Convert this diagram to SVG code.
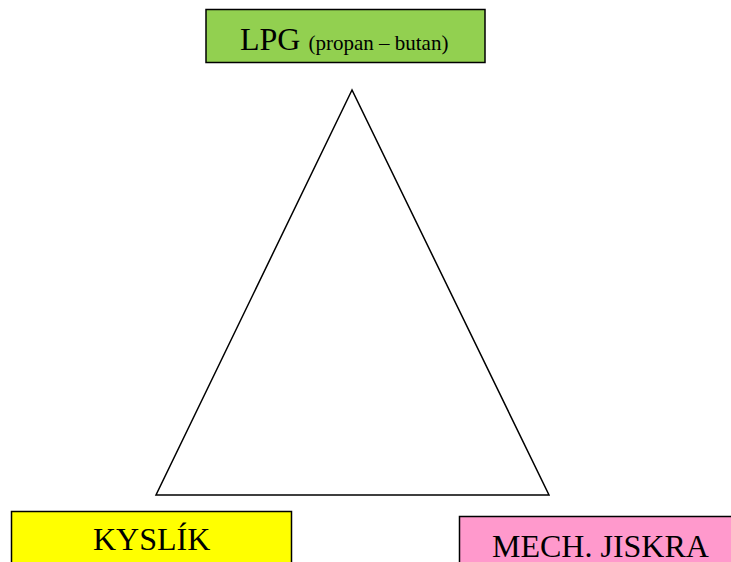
<svg xmlns="http://www.w3.org/2000/svg" width="731" height="562" viewBox="0 0 731 562">
<style>
.box{stroke:#000;stroke-width:1.5}
.t{font-family:"Liberation Serif","Times New Roman",serif;fill:#000}
</style>
<rect width="731" height="562" fill="#fff"/>
<g id="connectors">
<polygon points="352,90 156,495 549,495" fill="none" stroke="#000" stroke-width="1.5"/>
</g>
<g id="lpg">
<rect class="box" x="206" y="9.5" width="279" height="53" fill="#92D050"/>
<text class="t" x="240" y="50" font-size="32">LPG <tspan font-size="21">(propan – butan)</tspan></text>
</g>
<g id="kyslik">
<rect class="box" x="11.5" y="511.5" width="280" height="60" fill="#FFFF00"/>
<text class="t" x="93" y="550" font-size="32">KYSLÍK</text>
</g>
<g id="jiskra">
<rect class="box" x="459.5" y="516.5" width="280" height="60" fill="#FF99CC"/>
<text class="t" x="492" y="557" font-size="32">MECH. JISKRA</text>
</g>
</svg>
